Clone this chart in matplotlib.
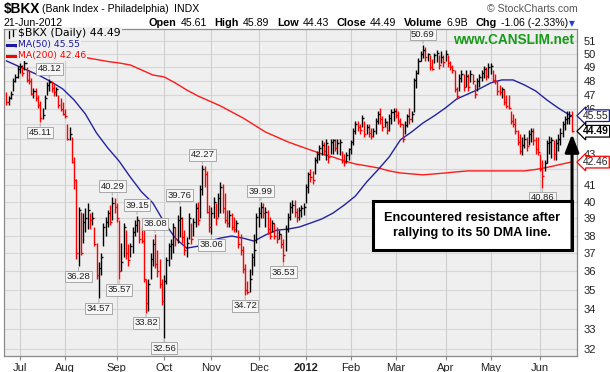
import matplotlib
matplotlib.use("Agg")
import matplotlib.pyplot as plt
import numpy as np
import pandas as pd
from matplotlib.patches import Rectangle
from matplotlib.lines import Line2D

# ---------------- data ----------------
holidays = ['2011-07-04', '2011-09-05', '2011-11-24', '2011-12-26', '2012-01-02',
            '2012-01-16', '2012-02-20', '2012-04-06', '2012-05-28']
all_days = pd.bdate_range('2011-06-23', '2012-06-21')
dates = all_days[~all_days.isin(pd.to_datetime(holidays))]

highs = [47.2, 46.9, 47.3, 48.2, 48.5, 49.1, 49.3, 49.2, 49.6, 49.0,
         48.8, 48.2, 47.5, 47.5, 47.0, 46.6, 46.1, 47.0, 47.9, 48.12,
         48.0, 47.8, 47.6, 47.0, 46.8, 46.5, 46.0, 44.97, 44.8, 44.1,
         42.8, 41.4, 39.7, 39.4, 39.3, 39.6, 39.9, 39.3, 39.4, 38.5,
         37.6, 36.5, 37.0, 38.7, 39.1, 39.5, 39.8, 40.29, 40.2, 39.9,
         38.9, 37.6, 38.7, 38.3, 37.5, 37.6, 38.5, 38.9, 39.15, 38.9,
         38.5, 38.4, 35.6, 35.6, 37.0, 37.8, 38.08, 37.2, 36.7, 35.6,
         35.8, 36.8, 37.6, 37.8, 38.7, 38.5, 39.2, 39.76, 39.1, 38.3,
         37.9, 39.3, 38.7, 39.0, 39.9, 40.0, 41.0, 42.27, 42.2, 41.9,
         39.8, 39.7, 40.3, 39.9, 40.5, 41.2, 41.1, 40.5, 39.5, 39.5,
         39.3, 39.1, 38.9, 38.3, 38.1, 37.4, 36.4, 35.5, 36.1, 37.0,
         38.1, 39.3, 39.7, 39.99, 39.9, 39.7, 39.5, 39.1, 38.9, 38.7,
         38.5, 38.3, 38.1, 37.8, 38.6, 39.3, 40.0, 40.1, 40.1, 39.6,
         39.7, 39.8, 39.9, 41.1, 41.8, 42.0, 41.9, 42.8, 43.2, 43.6,
         43.9, 43.8, 44.0, 43.6, 44.0, 44.0, 44.0, 44.0, 44.0, 43.2,
         43.0, 43.1, 43.4, 43.9, 44.7, 45.2, 45.2, 45.0, 45.6, 45.2,
         45.0, 45.0, 44.7, 44.7, 45.4, 45.9, 46.1, 45.5, 45.4, 45.2,
         45.7, 46.0, 46.1, 46.1, 45.9, 45.4, 44.97, 45.2, 45.7, 46.1,
         45.9, 48.2, 48.8, 49.7, 50.2, 50.69, 50.5, 50.1, 49.9, 49.6,
         50.1, 50.3, 49.9, 50.2, 49.9, 50.3, 49.9, 49.5, 49.2, 48.8,
         47.6, 48.5, 48.8, 48.5, 48.8, 48.5, 48.8, 48.5, 47.8, 48.2,
         48.5, 48.8, 49.1, 49.0, 49.35, 49.35, 48.8, 48.5, 48.1, 47.7,
         47.6, 47.4, 47.0, 47.0, 45.9, 45.7, 45.4, 44.6, 44.3, 44.1,
         44.3, 44.1, 44.6, 44.7, 44.7, 44.1, 44.1, 43.0, 42.6, 42.6,
         43.9, 44.2, 44.1, 43.9, 44.0, 44.3, 44.7, 45.2, 45.5, 45.9,
         45.9, 45.89]

lows = [46.3, 46.3, 46.7, 47.3, 47.9, 48.2, 48.6, 48.4, 48.8, 47.9,
        47.8, 47.0, 46.8, 46.6, 46.1, 45.11, 45.3, 46.0, 47.0, 47.3,
        47.2, 46.9, 46.9, 46.1, 45.9, 45.6, 45.4, 43.9, 43.9, 42.4,
        40.8, 36.7, 36.28, 36.9, 37.6, 38.2, 38.4, 38.4, 38.6, 37.4,
        35.6, 34.57, 35.8, 37.4, 38.0, 38.5, 38.6, 38.9, 39.3, 38.8,
        35.57, 36.0, 36.8, 36.7, 36.3, 36.8, 37.0, 38.0, 38.2, 37.6,
        37.6, 35.4, 33.82, 33.9, 35.6, 36.3, 36.2, 35.7, 35.1, 34.2,
        32.56, 35.3, 36.3, 36.7, 37.0, 37.4, 37.6, 37.9, 37.6, 36.9,
        36.8, 37.8, 37.5, 38.0, 38.5, 38.6, 39.0, 40.4, 40.9, 39.3,
        38.2, 38.06, 39.0, 38.6, 39.1, 39.3, 39.3, 38.7, 38.5, 38.5,
        38.3, 38.2, 38.2, 37.3, 36.9, 35.9, 34.72, 34.8, 34.9, 35.8,
        36.3, 37.6, 38.5, 39.0, 39.0, 38.5, 38.1, 37.8, 38.2, 37.8,
        37.6, 37.8, 37.3, 36.53, 37.1, 38.2, 38.9, 39.3, 39.1, 38.8,
        38.9, 39.1, 39.2, 39.9, 40.5, 41.2, 41.1, 41.7, 42.4, 42.6,
        42.9, 42.9, 42.6, 42.4, 43.0, 43.0, 43.2, 43.0, 42.9, 42.4,
        42.2, 42.4, 42.6, 43.0, 43.6, 44.3, 44.5, 44.3, 44.8, 44.1,
        44.3, 44.1, 44.0, 44.1, 44.3, 45.0, 45.0, 44.5, 44.8, 44.3,
        44.5, 45.0, 45.2, 45.4, 45.0, 44.8, 43.8, 44.3, 44.8, 45.0,
        45.1, 45.8, 47.5, 48.5, 49.5, 49.7, 49.5, 49.5, 48.8, 48.8,
        49.3, 49.4, 48.9, 49.3, 49.0, 49.5, 49.0, 48.8, 48.6, 47.2,
        46.7, 47.3, 47.9, 47.3, 47.6, 47.3, 47.9, 47.8, 46.8, 47.3,
        47.6, 48.0, 48.2, 48.1, 48.2, 48.5, 47.9, 47.8, 47.0, 47.0,
        46.8, 46.3, 46.1, 46.0, 45.0, 44.8, 44.3, 43.6, 43.0, 42.9,
        43.4, 43.2, 43.6, 43.8, 43.6, 43.0, 42.9, 41.9, 40.86, 41.9,
        42.4, 43.0, 42.7, 42.6, 42.6, 43.2, 43.6, 44.1, 44.6, 45.0,
        45.0, 44.43]

closes = [46.5, 46.8, 47.1, 48.0, 48.3, 48.9, 49.1, 48.6, 49.3, 48.1,
          48.0, 47.1, 47.3, 46.8, 46.3, 45.4, 45.6, 46.8, 47.7, 47.9,
          47.5, 47.2, 47.4, 46.3, 46.0, 45.7, 45.5, 44.0, 44.3, 42.5,
          41.3, 37.0, 39.5, 37.0, 38.8, 39.0, 39.5, 38.9, 39.0, 37.5,
          35.8, 36.2, 36.8, 38.5, 38.8, 39.3, 38.8, 39.9, 39.7, 39.0,
          36.0, 36.5, 38.5, 37.0, 36.6, 37.4, 38.2, 38.6, 38.9, 37.8,
          37.7, 35.6, 34.3, 35.3, 36.7, 37.5, 36.4, 36.0, 35.3, 34.4,
          35.5, 36.6, 37.4, 37.5, 38.5, 37.8, 38.9, 39.0, 37.9, 37.2,
          37.6, 39.0, 37.8, 38.8, 39.6, 38.9, 40.8, 42.0, 41.7, 39.4,
          38.5, 39.3, 40.0, 39.0, 40.2, 40.9, 39.6, 38.9, 38.7, 39.2,
          38.5, 38.4, 38.7, 37.5, 37.2, 36.1, 35.0, 34.9, 35.6, 36.8,
          37.2, 39.1, 39.3, 39.7, 39.3, 39.4, 38.4, 38.0, 38.7, 38.0,
          37.8, 38.1, 37.5, 36.9, 38.4, 39.1, 39.7, 39.8, 39.4, 39.1,
          39.5, 39.6, 39.7, 40.9, 41.7, 41.5, 41.3, 42.6, 43.0, 43.4,
          43.6, 43.2, 43.7, 42.8, 43.8, 43.9, 43.4, 43.7, 43.8, 42.6,
          42.5, 42.9, 43.3, 43.8, 44.5, 45.0, 44.8, 44.6, 45.4, 44.3,
          44.8, 44.4, 44.2, 44.5, 45.2, 45.7, 45.3, 44.8, 45.1, 44.6,
          45.4, 45.8, 45.9, 45.6, 45.2, 45.0, 44.0, 44.9, 45.5, 45.3,
          45.7, 48.1, 48.6, 49.5, 50.0, 50.3, 49.8, 50.0, 49.0, 48.9,
          49.9, 50.1, 49.2, 49.8, 49.4, 50.0, 49.3, 49.0, 48.8, 47.4,
          46.9, 48.2, 48.5, 47.6, 48.4, 47.6, 48.5, 48.0, 47.1, 48.0,
          48.3, 48.6, 48.9, 48.4, 49.0, 49.1, 48.1, 48.0, 47.3, 47.2,
          47.4, 46.5, 46.2, 46.1, 45.2, 45.0, 44.5, 43.8, 43.2, 43.6,
          44.0, 43.5, 44.3, 44.5, 43.9, 43.3, 43.1, 42.0, 41.6, 42.4,
          43.7, 43.8, 43.9, 43.0, 43.7, 44.0, 44.4, 45.0, 45.3, 45.4,
          45.55, 44.49]

# moving averages every 5th session (plus the last one)
ma50 = [49.48, 49.11, 48.74, 48.37, 47.93, 47.43, 46.65, 45.68, 44.37, 43.38,
        42.53, 41.51, 40.59, 39.92, 38.78, 37.85, 37.28, 37.39, 37.68, 37.85,
        37.97, 37.85, 37.68, 38.03, 38.31, 38.37, 38.49, 38.72, 38.96, 39.31,
        39.79, 40.34, 41.21, 41.97, 42.80, 43.92, 44.45, 45.05, 45.54, 46.09,
        46.72, 47.07, 47.43, 47.86, 48.08, 48.08, 47.72, 47.29, 46.65, 46.09,
        45.60, 45.55]
ma200 = [50.69, 50.54, 50.39, 50.23, 50.08, 49.93, 49.86, 49.74, 49.59, 49.44,
         49.33, 49.18, 48.81, 48.44, 48.30, 47.86, 47.36, 46.93, 46.58, 46.23,
         45.81, 45.40, 44.92, 44.44, 44.11, 43.78, 43.51, 43.25, 42.99, 42.79,
         42.54, 42.34, 42.22, 42.09, 41.90, 41.77, 41.71, 41.65, 41.71, 41.77,
         41.84, 41.90, 41.90, 41.90, 41.90, 41.90, 41.90, 41.99, 42.12, 42.28,
         42.44, 42.46]

peak_idx = [19, 47, 58, 66, 77, 87, 113, 185]
trough_idx = [15, 32, 41, 50, 62, 70, 91, 106, 123, 238]

y_ticks = list(range(32, 52))
hidden_ticks = [45, 44, 42]   # covered by the value tags in the reference
month_names = ['Jul', 'Aug', 'Sep', 'Oct', 'Nov', 'Dec', '2012', 'Feb', 'Mar', 'Apr', 'May', 'Jun']

header_title = "$BKX"
header_sub = "(Bank Index - Philadelphia)"
header_exch = "INDX"
date_str = "21-Jun-2012"
quote_items = [("Open", "45.61"), ("High", "45.89"), ("Low", "44.43"), ("Close", "44.49"),
               ("Volume", "6.9B"), ("Chg", "-1.06 (-2.33%)")]
note_text = "Encountered resistance after\nrallying to its 50 DMA line."

# ---------------- figure ----------------
W, H = 610, 372
fig = plt.figure(figsize=(W / 100, H / 100), dpi=100)
fig.patch.set_facecolor('white')

AX_L, AX_R, AX_T, AX_B = 4, 577, 29, 356
ax = fig.add_axes([AX_L / W, 1 - AX_B / H, (AX_R - AX_L) / W, (AX_B - AX_T) / H])
BG = '#efefef'
GRID = '#d7d7d7'
ax.set_facecolor(BG)

n = len(closes)
x = np.arange(n)
hi = np.array(highs)
lo = np.array(lows)
cl = np.array(closes)
up = np.concatenate([[False], cl[1:] > cl[:-1]])
colors = np.where(up, 'black', '#ff0000')

ax.set_yscale('log')
ax.set_ylim(31.67, 51.93)
ax.set_xlim(-1.1, 253.4)

# grid
for v in y_ticks:
    ax.axhline(v, color=GRID, lw=0.8, zorder=0)
month_starts = [i for i in range(1, n) if dates[i].month != dates[i - 1].month]
for i in month_starts:
    ax.axvline(i, color='#cfcfcf', lw=0.8, zorder=0)

# moving averages
ma_x = list(range(0, n, 5)) + [n - 1]
ax.plot(ma_x, ma200, color='#ff1a1a', lw=1.0, zorder=2)
ax.plot(ma_x, ma50, color='#2323a0', lw=1.0, zorder=2)

# OHLC bars (high-low + close tick)
ax.vlines(x, lo, hi, colors=colors, lw=1.0, zorder=3)
ax.hlines(cl, x, x + 0.9, colors=colors, lw=1.0, zorder=3)

# axes styling
ax.yaxis.tick_right()
ax.set_yticks(y_ticks)
ax.set_yticklabels(['' if v in hidden_ticks else str(v) for v in y_ticks])
ax.yaxis.set_minor_locator(matplotlib.ticker.NullLocator())
ax.yaxis.set_minor_formatter(matplotlib.ticker.NullFormatter())
ax.tick_params(axis='y', length=0, pad=5, labelsize=8, labelcolor='#222222')
for lab in ax.get_yticklabels():
    lab.set_family('Liberation Sans')
ax.set_xticks(month_starts)
ax.set_xticklabels(month_names)
ax.tick_params(axis='x', length=3, width=0.8, color='#888888', pad=2, labelsize=8,
               labelcolor='#222222')
for lab in ax.get_xticklabels():
    lab.set_family('Liberation Sans')
    if lab.get_text() == '2012':
        lab.set_fontweight('bold')
for s in ax.spines.values():
    s.set_color('#8a8a8a')
    s.set_linewidth(0.9)

# callouts
cb = dict(boxstyle='square,pad=0.15', fc='#f6f6f6', ec='#a8a8a8', lw=0.7)
for i in peak_idx:
    ax.annotate(f"{highs[i]:.2f}", xy=(i, highs[i]), xytext=(0, 7.5), textcoords='offset points',
                ha='center', va='center', fontsize=6.8, family='Liberation Sans', color='#222222',
                bbox=cb, zorder=6,
                arrowprops=dict(arrowstyle='-', color='#a8a8a8', lw=0.7, shrinkA=0, shrinkB=1))
for i in trough_idx:
    ax.annotate(f"{lows[i]:.2f}", xy=(i, lows[i]), xytext=(0, -7.5), textcoords='offset points',
                ha='center', va='center', fontsize=6.8, family='Liberation Sans', color='#222222',
                bbox=cb, zorder=6,
                arrowprops=dict(arrowstyle='-', color='#a8a8a8', lw=0.7, shrinkA=0, shrinkB=1))

# right side value tags
ytr = ax.get_yaxis_transform()
tags = [(ma50[-1], '#1a1a9a', 'normal'), (closes[-1], 'black', 'bold'),
        (ma200[-1], '#ff0000', 'normal')]
for val, ec, fw in tags:
    ax.annotate(f"{val:.2f}", xy=(1.0, val), xycoords=ytr, xytext=(4.3, 0), textcoords='offset points',
                ha='left', va='center', fontsize=7.4, fontweight=fw, family='Liberation Sans',
                color='black' if fw == 'bold' else '#222222',
                bbox=dict(boxstyle='larrow,pad=0.08', fc='white', ec=ec, lw=0.9),
                annotation_clip=False, zorder=8)

# in-chart legend
leg_items = [("$BKX (Daily) " + f"{closes[-1]:.2f}", 'black', 33.5, 7.8),
             ("MA(50) " + f"{ma50[-1]:.2f}", '#1a1a9a', 44.5, 6.7),
             ("MA(200) " + f"{ma200[-1]:.2f}", '#ff0000', 55.5, 6.7)]
for txt, col, py, fs in leg_items:
    fig.text(18 / W, 1 - py / H, txt, fontsize=fs, family='DejaVu Sans', color=col,
             va='center', ha='left', zorder=9,
             bbox=dict(boxstyle='square,pad=0.1', fc=BG, ec='none'))
for col, py in [('#1a1a9a', 44.5), ('#ff0000', 55.5)]:
    fig.add_artist(Line2D([7 / W, 15 / W], [1 - py / H, 1 - py / H], color=col, lw=2.2))
# small OHLC icon
for px_, y0, y1 in [(9, 31, 38), (13, 29.5, 36)]:
    fig.add_artist(Line2D([px_ / W, px_ / W], [1 - y1 / H, 1 - y0 / H], color='black', lw=0.9))

fig.text(574 / W, 1 - 40 / H, "www.CANSLIM.net", fontsize=9.8, fontweight='bold',
         family='Liberation Sans', color='#1a9a1a', ha='right', va='center')

# note box + arrow
ax.add_patch(Rectangle(((373 - AX_L) / (AX_R - AX_L), 1 - (250 - AX_T) / (AX_B - AX_T)),
                       (572 - 373) / (AX_R - AX_L), (250 - 201) / (AX_B - AX_T),
                       transform=ax.transAxes, fc='white', ec='black', lw=2.2, zorder=7))
ax.text((472 - AX_L) / (AX_R - AX_L), 1 - (225.5 - AX_T) / (AX_B - AX_T), note_text,
        transform=ax.transAxes, ha='center', va='center', fontsize=9.2, fontweight='bold',
        family='Liberation Sans', linespacing=1.25, zorder=8)
ax.annotate('', xy=(n - 0.8, 44.3), xytext=(n - 0.8, 37.17),
            arrowprops=dict(arrowstyle='-|>,head_width=0.35,head_length=0.9', lw=2.2,
                            color='black', shrinkA=0, shrinkB=0, mutation_scale=12),
            zorder=8)

# header
fig.text(4 / W, 1 - 9 / H, header_title, fontsize=9.8, fontweight='bold', family='Liberation Sans',
         va='center', ha='left')
fig.text(42 / W, 1 - 9.5 / H, header_sub, fontsize=7.6, family='Liberation Sans', va='center', ha='left')
fig.text(174 / W, 1 - 9.5 / H, header_exch, fontsize=7.6, family='Liberation Sans', va='center', ha='left')
fig.text(578 / W, 1 - 9.5 / H, "\u00a9 StockCharts.com", fontsize=7.6, family='Liberation Sans',
         color='#555555', va='center', ha='right')
fig.text(4 / W, 1 - 23.5 / H, date_str, fontsize=7.6, family='Liberation Sans', va='center', ha='left')

# quote line, laid out right-to-left from its right end using measured text widths
renderer = fig.canvas.get_renderer()
cur = 568.0
for lab, val in reversed(quote_items):
    t = fig.text(cur / W, 1 - 23.5 / H, val, fontsize=7.6, family='Liberation Sans',
                 va='center', ha='right')
    wv = t.get_window_extent(renderer).width
    cur -= wv + 4
    t = fig.text(cur / W, 1 - 23.5 / H, lab, fontsize=7.8, fontweight='bold',
                 family='Liberation Sans', va='center', ha='right')
    wl = t.get_window_extent(renderer).width
    cur -= wl + 7.5
fig.text(572 / W, 1 - 24 / H, "\u25bc", fontsize=5.5, family='DejaVu Sans', color='#1f3fd0',
         va='center', ha='center')

fig.savefig('out.png', dpi=100, facecolor='white')
